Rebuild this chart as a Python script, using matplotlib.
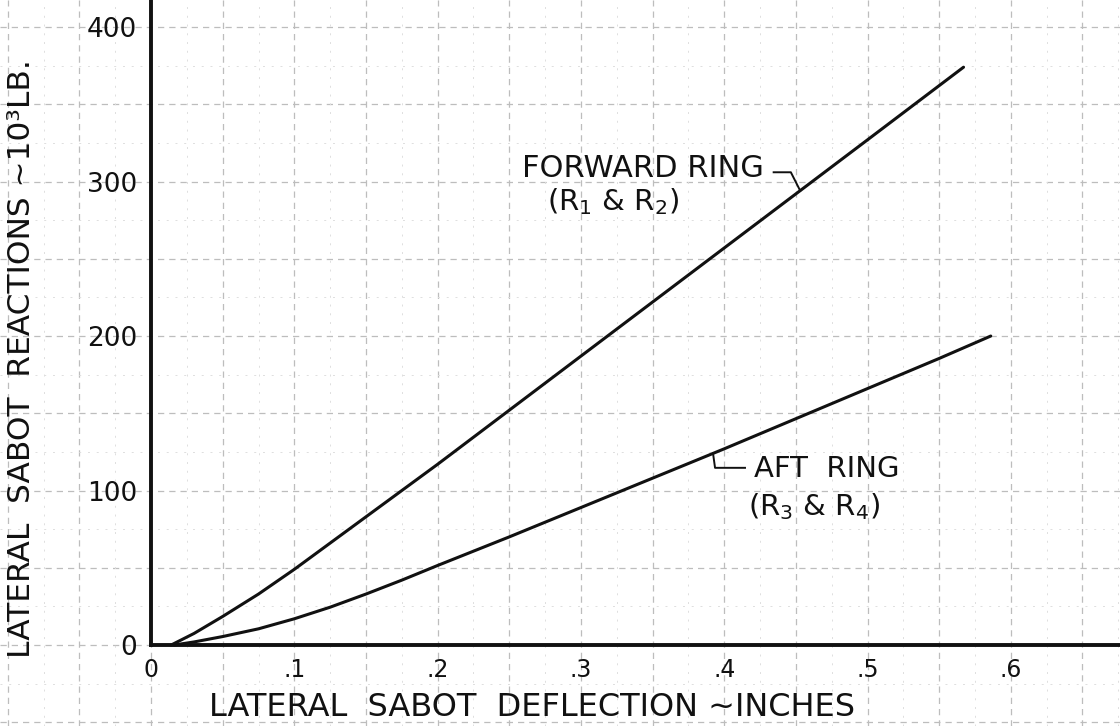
import numpy as np
import matplotlib
matplotlib.use("Agg")
import matplotlib.pyplot as plt

# Lateral sabot deflection (inches) vs lateral sabot reaction (10^3 lb)
forward_x = [0.014, 0.03, 0.05, 0.075, 0.10, 0.125, 0.15, 0.20, 0.25, 0.30, 0.35, 0.40, 0.45, 0.50, 0.567]
forward_y = [0, 7.5, 18.5, 33, 49, 66, 83, 117, 152, 187, 222, 257, 292, 327, 374]

aft_x = [0.016, 0.03, 0.05, 0.075, 0.10, 0.125, 0.15, 0.175, 0.20, 0.25, 0.30, 0.35, 0.40, 0.45, 0.50, 0.55, 0.586]
aft_y = [0, 2, 5.5, 10.5, 17, 24.5, 33, 42, 51.5, 70, 89, 108, 127, 146.5, 166, 185.5, 200]

x_ticks = [0, 0.1, 0.2, 0.3, 0.4, 0.5, 0.6]
x_tick_labels = ["0", ".1", ".2", ".3", ".4", ".5", ".6"]
y_ticks = [0, 100, 200, 300, 400]
y_tick_labels = ["0", "100", "200", "300", "400"]

x_label = "LATERAL  SABOT  DEFLECTION ~INCHES"
y_label = "LATERAL  SABOT  REACTIONS ~10³LB."

plt.rcParams["font.family"] = ["DejaVu Sans"]
plt.rcParams["mathtext.fontset"] = "dejavusans"

ink = "#111111"

fig = plt.figure(figsize=(11.2, 7.26), dpi=100)
ax = fig.add_axes([0, 0, 1, 1])
ax.set_xlim(-0.1054, 0.6762)
ax.set_ylim(-52.4, 417.5)

# graph-paper grid running across the whole sheet
for gx in np.arange(-0.1, 0.68, 0.05):
    ax.axvline(gx, color="#bdbdbd", lw=0.9, ls=(0, (5, 4)), zorder=0)
for gy in np.arange(-50, 420, 50):
    ax.axhline(gy, color="#bdbdbd", lw=0.9, ls=(0, (5, 4)), zorder=0)
for gx in np.arange(-0.075, 0.68, 0.05):
    ax.axvline(gx, color="#dedede", lw=0.7, ls=(0, (2, 7)), zorder=0)
for gy in np.arange(-25, 420, 50):
    ax.axhline(gy, color="#dedede", lw=0.7, ls=(0, (2, 7)), zorder=0)

# axes drawn as heavy ink lines through the origin
for side in ("top", "right"):
    ax.spines[side].set_visible(False)
ax.spines["left"].set_position(("data", 0))
ax.spines["bottom"].set_position(("data", 0))
ax.spines["left"].set_bounds(0, 417.5)
ax.spines["bottom"].set_bounds(0, 0.6762)
for side in ("left", "bottom"):
    ax.spines[side].set_linewidth(2.8)
    ax.spines[side].set_color(ink)
    ax.spines[side].set_zorder(3)

ax.set_xticks(x_ticks)
ax.set_xticklabels(x_tick_labels, fontsize=17, color=ink)
ax.set_yticks(y_ticks)
ax.set_yticklabels(y_tick_labels, fontsize=19, color=ink)
ax.tick_params(axis="x", length=0, pad=9)
ax.tick_params(axis="y", length=0, pad=10)

ax.set_xlabel(x_label, fontsize=23, va="center", color=ink)
ax.xaxis.set_label_coords(0.475, 0.026)
ax.set_ylabel(y_label, fontsize=22.5, va="center", color=ink)
ax.yaxis.set_label_coords(0.0196, 0.5055)

# the two ring curves
ax.plot(forward_x, forward_y, color=ink, lw=2.2, solid_capstyle="round", solid_joinstyle="round", zorder=4)
ax.plot(aft_x, aft_y, color=ink, lw=2.2, solid_capstyle="round", solid_joinstyle="round", zorder=4)

# forward ring label and leader
ax.text(0.2587, 303, "FORWARD RING", fontsize=22, ha="left", va="baseline", color=ink)
ax.text(0.2761, 281.5, "(R$_1$ & R$_2$)", fontsize=21, ha="left", va="baseline", color=ink)
fx = 0.453
fy = np.interp(fx, forward_x, forward_y)
ax.plot([0.4345, 0.4465, fx], [306, 306, fy], color=ink, lw=1.4, zorder=4)

# aft ring label and leader
ax.text(0.4208, 109, "AFT  RING", fontsize=21, ha="left", va="baseline", color=ink)
ax.text(0.4166, 84, "(R$_3$ & R$_4$)", fontsize=21, ha="left", va="baseline", color=ink)
axx = 0.3922
ayy = np.interp(axx, aft_x, aft_y)
ax.plot([axx, axx + 0.0014, 0.4145], [ayy, 114.7, 114.7], color=ink, lw=1.4, zorder=4)

fig.savefig("out.png", dpi=100, facecolor="white")
